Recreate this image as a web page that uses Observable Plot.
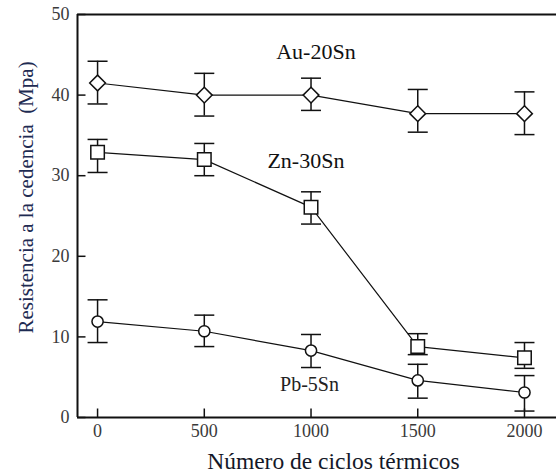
<!DOCTYPE html>
<html>
<head>
<meta charset="utf-8">
<script src="https://cdn.jsdelivr.net/npm/d3@7"></script>
<script src="https://cdn.jsdelivr.net/npm/@observablehq/plot@0.6"></script>
<style>
  html, body { margin: 0; padding: 0; background: white; }
</style>
</head>
<body>
<div id="chart"></div>
<script>
// ---- data ----
const cycles = [0, 500, 1000, 1500, 2000];
const auMean = [41.5, 40.0, 40.0, 37.7, 37.7];
const auHi   = [44.2, 42.7, 42.1, 40.7, 40.4];
const auLo   = [38.9, 37.4, 38.1, 35.4, 35.1];
const znMean = [32.9, 32.0, 26.1, 8.8, 7.4];
const znHi   = [34.5, 34.0, 28.0, 10.4, 9.3];
const znLo   = [30.4, 30.0, 24.0, 7.8, 6.1];
const pbMean = [11.9, 10.7, 8.3, 4.6, 3.1];
const pbHi   = [14.6, 12.7, 10.3, 6.6, 5.2];
const pbLo   = [9.3, 8.8, 6.2, 2.4, 0.8];
const seriesNames = ["Au-20Sn", "Zn-30Sn", "Pb-5Sn"];
const labelX = [1023, 976, 993];
const labelY = [45.35, 31.8, 4.1];
const yTicks = [0, 10, 20, 30, 40, 50];
const xTitle = "Número de ciclos térmicos";
const yTitle = "Resistencia a la cedencia  (Mpa)";

const xMin = -94, xMax = 2150;
const FONT = "Liberation Serif";

const build = (name, m, hi, lo) => cycles.map((c, i) => ({series: name, x: c, y: m[i], hi: hi[i], lo: lo[i]}));
const au = build(seriesNames[0], auMean, auHi, auLo);
const zn = build(seriesNames[1], znMean, znHi, znLo);
const pb = build(seriesNames[2], pbMean, pbHi, pbLo);
const all = [...au, ...zn, ...pb];
const labels = seriesNames.map((s, i) => ({s, x: labelX[i], y: labelY[i]}));

// custom symbols (pixel-sized)
const capSymbol = {draw(ctx) { ctx.moveTo(-10, 0); ctx.lineTo(10, 0); }};
const yTickSymbol = {draw(ctx) { ctx.moveTo(0, 0); ctx.lineTo(8, 0); }};
const xTickSymbol = {draw(ctx) { ctx.moveTo(0, 0); ctx.lineTo(0, -9); }};

const chart = Plot.plot({
  width: 556,
  height: 474,
  marginLeft: 77,
  marginRight: 0,
  marginTop: 14,
  marginBottom: 57,
  style: {fontFamily: FONT, fontSize: "18px", background: "white", color: "#3a3a3a"},
  x: {domain: [xMin, xMax], ticks: cycles, tickSize: 0, tickPadding: 7, tickFormat: d => String(d), label: null},
  y: {domain: [0, 50], ticks: yTicks, tickSize: 0, tickPadding: 8, tickFormat: d => String(d), label: null},
  marks: [
    // frame lines
    Plot.ruleX([xMin], {stroke: "#111", strokeWidth: 2}),
    Plot.ruleY([0, 50], {stroke: "#111", strokeWidth: 2}),
    // inward ticks
    Plot.dot(yTicks, {x: xMin, y: d => d, symbol: yTickSymbol, r: 1, fill: "none", stroke: "#111", strokeWidth: 1.5}),
    Plot.dot(cycles, {x: d => d, y: 0, symbol: xTickSymbol, r: 1, fill: "none", stroke: "#111", strokeWidth: 1.5}),
    // error bars
    Plot.ruleX(all, {x: "x", y1: "lo", y2: "hi", stroke: "#111", strokeWidth: 1.5}),
    Plot.dot(all, {x: "x", y: "hi", symbol: capSymbol, r: 1, fill: "none", stroke: "#111", strokeWidth: 1.5}),
    Plot.dot(all, {x: "x", y: "lo", symbol: capSymbol, r: 1, fill: "none", stroke: "#111", strokeWidth: 1.5}),
    // lines
    Plot.line(all, {x: "x", y: "y", z: "series", stroke: "#111", strokeWidth: 1.2}),
    // markers
    Plot.dot(au, {x: "x", y: "y", symbol: "diamond2", r: 7.1, fill: "white", stroke: "#111", strokeWidth: 1.5}),
    Plot.dot(zn, {x: "x", y: "y", symbol: "square2", r: 8.6, fill: "white", stroke: "#111", strokeWidth: 1.5}),
    Plot.dot(pb, {x: "x", y: "y", symbol: "circle", r: 5.6, fill: "white", stroke: "#111", strokeWidth: 1.5}),
    // series labels
    Plot.text(labels.slice(0, 2), {x: "x", y: "y", text: "s", fontSize: 22, fontFamily: FONT, fill: "#111"}),
    Plot.text(labels.slice(2), {x: "x", y: "y", text: "s", fontSize: 20, fontFamily: FONT, fill: "#222"}),
    // axis titles
    Plot.text([xTitle], {x: 1105, y: 0, text: d => d, dy: 44, fontSize: 23.5, fontFamily: FONT, fill: "#141828"}),
    Plot.text([yTitle], {x: xMin, y: 27.3, text: d => d, dx: -51, rotate: -90, fontSize: 21, fontFamily: FONT, fill: "#1e2b52"})
  ]
});
document.getElementById("chart").appendChild(chart);
</script>
</body>
</html>
